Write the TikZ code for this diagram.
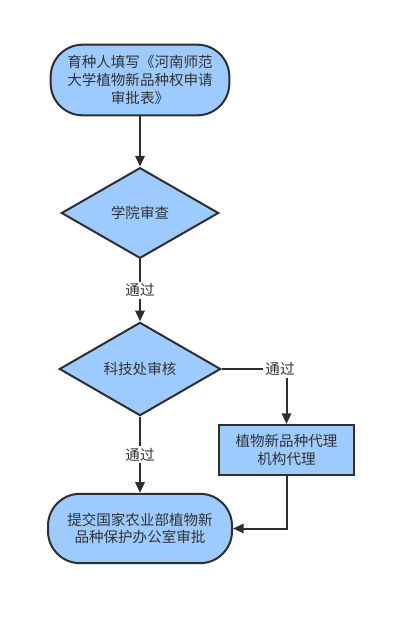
\documentclass[tikz,border=0pt]{standalone}
\usepackage{fontspec}
\setmainfont{Noto Sans CJK SC}
\usetikzlibrary{shapes.geometric,arrows.meta}
\definecolor{fillblue}{HTML}{9DCBFF}
\definecolor{stroke}{HTML}{2E2E2E}
\definecolor{txt}{HTML}{333333}
\begin{document}
\begin{tikzpicture}[x=0.75pt,y=-0.75pt,
  every node/.style={font=\fontsize{10.9pt}{13.2pt}\selectfont, text=txt},
  term/.style={draw=stroke, line width=1.5pt, fill=fillblue, rounded corners=24pt, align=center, inner sep=0pt},
  decide/.style={draw=stroke, line width=1.5pt, fill=fillblue, diamond, inner sep=0pt},
  procbox/.style={draw=stroke, line width=1.5pt, fill=fillblue, align=center, inner sep=0pt},
  conn/.style={draw=stroke, line width=1.5pt, -{Triangle[length=8pt,width=7pt]}},
  lbl/.style={fill=white, inner sep=1.5pt}
]
\useasboundingbox (0,0) rectangle (400,617);
\node[term, minimum width=134pt, minimum height=53pt] (start) at (140,80) {育种人填写《河南师范\\大学植物新品种权申请\\审批表》};
\node[decide, minimum width=118pt, minimum height=68pt] (d1) at (140,213) {学院审查};
\node[decide, minimum width=121pt, minimum height=70pt] (d2) at (140,369) {科技处审核};
\node[procbox, minimum width=101pt, minimum height=37.5pt] (agent) at (286.5,450) {植物新品种代理\\机构代理};
\node[term, minimum width=138pt, minimum height=52pt] (final) at (140,528.5) {提交国家农业部植物新\\品种保护办公室审批};

\draw[conn] (start) -- (d1);
\draw[conn] (d1) -- node[lbl] {通过} (d2);
\draw[conn] (d2) -- node[lbl,pos=0.5] {通过} (final);
\draw[conn] (d2.east) -| node[lbl,pos=0.45] {通过} (agent.north);
\draw[conn] (agent.south) |- (final.east);
\end{tikzpicture}
\end{document}
